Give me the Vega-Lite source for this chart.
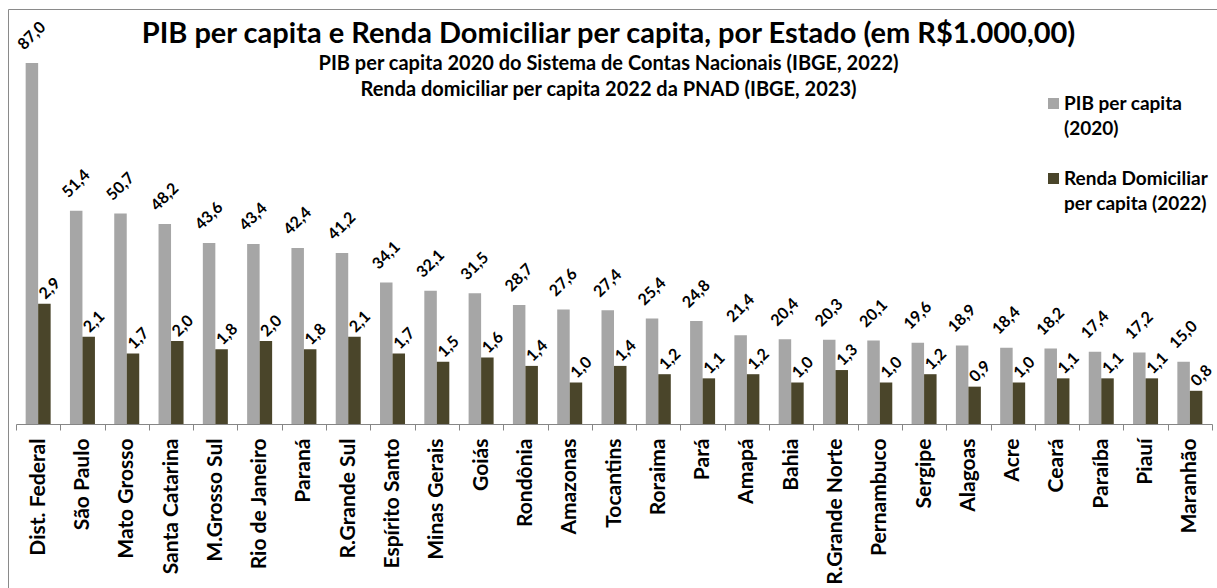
{
  "$schema": "https://vega.github.io/schema/vega-lite/v6.json",
  "width": 1209,
  "height": 579,
  "autosize": {"type": "none"},
  "padding": {"left": 8, "top": 9, "right": 0, "bottom": 0},
  "background": "white",
  "config": {
    "locale": {"number": {"decimal": ",", "thousands": ".", "grouping": [3], "currency": ["R$", ""]}},
    "view": {"stroke": "#8a8a8a", "strokeWidth": 1, "strokeDash": [1209, 1788, 579, 0]},
    "font": "Lato"
  },
  "title": {
    "text": "PIB per capita e Renda Domiciliar per capita, por Estado (em R$1.000,00)",
    "subtitle": ["PIB per capita 2020 do Sistema de Contas Nacionais (IBGE, 2022)", "Renda domiciliar per capita 2022 da PNAD (IBGE, 2023)"],
    "font": "Lato", "fontSize": 29, "fontWeight": "bold", "color": "black",
    "subtitleFont": "Lato", "subtitleFontSize": 20, "subtitleFontWeight": "bold", "subtitleColor": "black",
    "subtitleLineHeight": 26, "subtitlePadding": 5,
    "anchor": "middle", "dx": -4, "dy": 95
  },
  "data": {"values": [
    {"estado": "Dist. Federal", "pib": 87.0, "renda": 2.9},
    {"estado": "São Paulo", "pib": 51.4, "renda": 2.1},
    {"estado": "Mato Grosso", "pib": 50.7, "renda": 1.7},
    {"estado": "Santa Catarina", "pib": 48.2, "renda": 2.0},
    {"estado": "M.Grosso Sul", "pib": 43.6, "renda": 1.8},
    {"estado": "Rio de Janeiro", "pib": 43.4, "renda": 2.0},
    {"estado": "Paraná", "pib": 42.4, "renda": 1.8},
    {"estado": "R.Grande Sul", "pib": 41.2, "renda": 2.1},
    {"estado": "Espírito Santo", "pib": 34.1, "renda": 1.7},
    {"estado": "Minas Gerais", "pib": 32.1, "renda": 1.5},
    {"estado": "Goiás", "pib": 31.5, "renda": 1.6},
    {"estado": "Rondônia", "pib": 28.7, "renda": 1.4},
    {"estado": "Amazonas", "pib": 27.6, "renda": 1.0},
    {"estado": "Tocantins", "pib": 27.4, "renda": 1.4},
    {"estado": "Roraima", "pib": 25.4, "renda": 1.2},
    {"estado": "Pará", "pib": 24.8, "renda": 1.1},
    {"estado": "Amapá", "pib": 21.4, "renda": 1.2},
    {"estado": "Bahia", "pib": 20.4, "renda": 1.0},
    {"estado": "R.Grande Norte", "pib": 20.3, "renda": 1.3},
    {"estado": "Pernambuco", "pib": 20.1, "renda": 1.0},
    {"estado": "Sergipe", "pib": 19.6, "renda": 1.2},
    {"estado": "Alagoas", "pib": 18.9, "renda": 0.9},
    {"estado": "Acre", "pib": 18.4, "renda": 1.0},
    {"estado": "Ceará", "pib": 18.2, "renda": 1.1},
    {"estado": "Paraíba", "pib": 17.4, "renda": 1.1},
    {"estado": "Piauí", "pib": 17.2, "renda": 1.1},
    {"estado": "Maranhão", "pib": 15.0, "renda": 0.8}
  ]},
  "transform": [{"fold": ["pib", "renda"], "as": ["serie", "valor"]}],
  "encoding": {
    "x": {
      "field": "estado", "type": "nominal", "sort": null,
      "scale": {"range": [8, 1204], "paddingInner": 0, "paddingOuter": 0},
      "axis": {
        "title": null, "orient": "bottom", "offset": -164, "labelAngle": -90,
        "labelFont": "Lato", "labelFontSize": 21, "labelFontWeight": "bold", "labelColor": "black",
        "labelPadding": 8, "tickSize": 6, "tickBand": "extent", "tickColor": "#868686",
        "domainColor": "#868686", "labelAlign": "right", "labelBaseline": "middle",
        "grid": false, "labelOverlap": false, "labelLimit": 300
      }
    },
    "xOffset": {"field": "serie", "type": "nominal", "scale": {"domain": ["pib", "renda"], "paddingInner": 0, "paddingOuter": 0.772}},
    "color": {
      "field": "serie", "type": "nominal",
      "scale": {"domain": ["pib", "renda"], "range": ["#a6a6a6", "#4a452a"]},
      "legend": {
        "orient": "none", "legendX": 1036, "legendY": 85, "title": null,
        "symbolType": "square", "symbolSize": 121, "symbolStrokeWidth": 0,
        "labelFont": "Lato", "labelFontSize": 19, "labelFontWeight": "bold", "labelColor": "black",
        "labelExpr": "datum.value == 'pib' ? ['PIB per capita', '(2020)'] : ['Renda Domiciliar', 'per capita (2022)']",
        "labelOffset": 1, "rowPadding": 30, "padding": 0, "labelLimit": 300,
        "encoding": {"labels": {"lineHeight": {"value": 25}}}
      }
    }
  },
  "layer": [
    {
      "transform": [{"filter": "datum.serie == 'pib'"}],
      "mark": {"type": "bar"},
      "encoding": {"y": {"field": "valor", "type": "quantitative", "scale": {"domain": [0, 100], "range": [415, 0]}, "axis": null}}
    },
    {
      "transform": [{"filter": "datum.serie == 'renda'"}],
      "mark": {"type": "bar"},
      "encoding": {"y": {"field": "valor", "type": "quantitative", "scale": {"domain": [0, 10], "range": [415, 0]}, "axis": null}}
    },
    {
      "transform": [{"filter": "datum.serie == 'pib'"}],
      "mark": {"type": "text", "angle": -45, "dx": 19.1, "dy": -19.1, "fontSize": 16, "fontWeight": "bold", "font": "Lato", "color": "black", "align": "center", "baseline": "middle"},
      "encoding": {
        "y": {"field": "valor", "type": "quantitative", "scale": {"domain": [0, 100], "range": [415, 0]}, "axis": null},
        "text": {"field": "valor", "type": "quantitative", "format": ".1f"},
        "color": {"value": "black"}
      }
    },
    {
      "transform": [{"filter": "datum.serie == 'renda'"}],
      "mark": {"type": "text", "angle": -45, "dx": 14.5, "dy": -6.7, "fontSize": 16, "fontWeight": "bold", "font": "Lato", "color": "black", "align": "center", "baseline": "middle"},
      "encoding": {
        "y": {"field": "valor", "type": "quantitative", "scale": {"domain": [0, 10], "range": [415, 0]}, "axis": null},
        "text": {"field": "valor", "type": "quantitative", "format": ".1f"},
        "color": {"value": "black"}
      }
    }
  ],
  "resolve": {"scale": {"y": "independent"}}
}
